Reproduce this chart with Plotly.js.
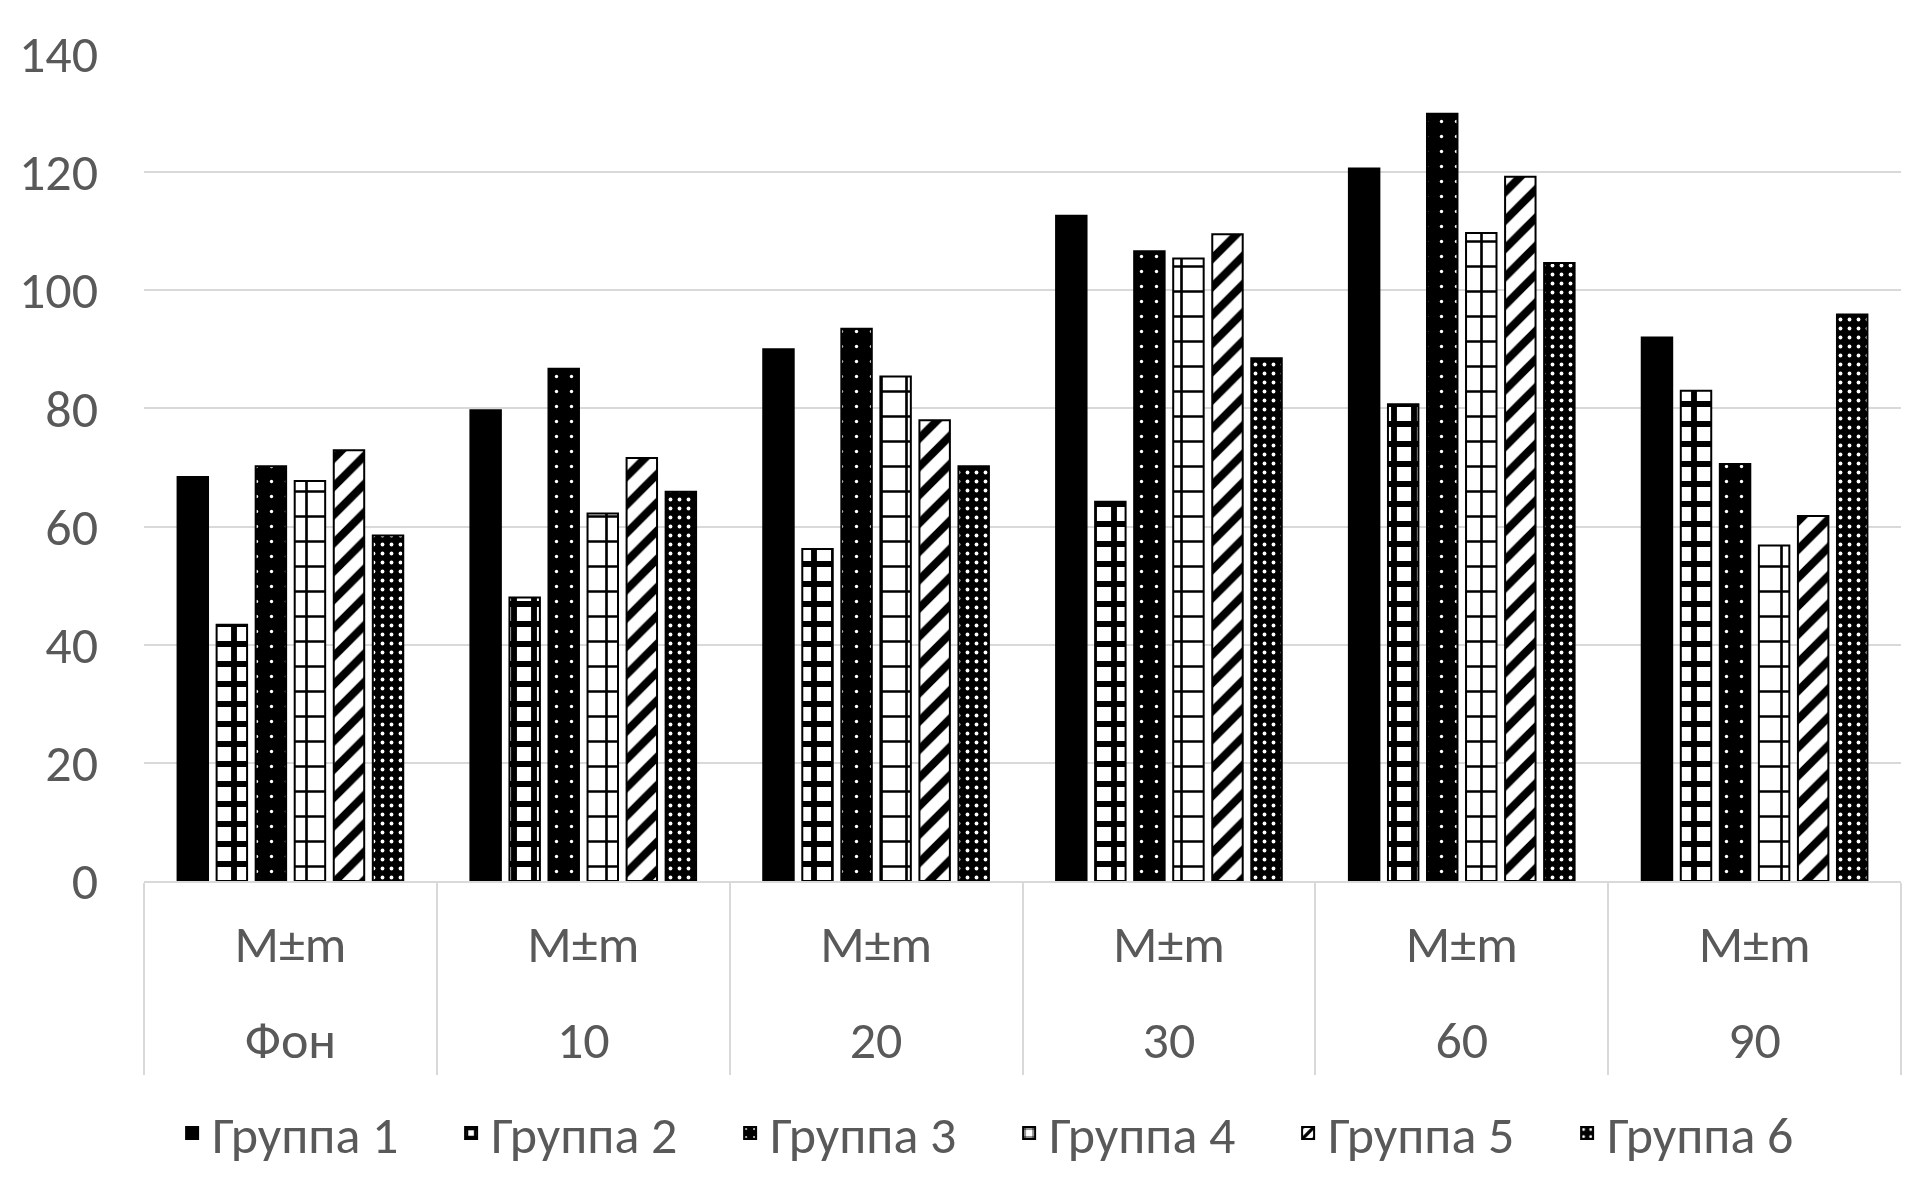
<!DOCTYPE html>
<html>
<head>
<meta charset="utf-8">
<script src="https://cdn.plot.ly/plotly-3.0.1.min.js"></script>
<style>html,body{margin:0;padding:0;background:#fff;}#chart{width:1908px;height:1191px;}</style>
</head>
<body>
<div id="chart"></div>
<script>
const categories = ['Фон', '10', '20', '30', '60', '90'];
const statLabel = 'M±m';
const seriesNames = ['Группа 1', 'Группа 2', 'Группа 3', 'Группа 4', 'Группа 5', 'Группа 6'];
const group1 = [68.4, 79.7, 90.0, 112.6, 120.6, 92.0];
const group2 = [43.4, 48.0, 56.2, 64.2, 80.7, 83.0];
const group3 = [70.2, 86.7, 93.5, 106.6, 129.9, 70.6];
const group4 = [67.7, 62.2, 85.4, 105.4, 109.7, 56.8];
const group5 = [72.9, 71.6, 78.0, 109.5, 119.2, 61.8];
const group6 = [58.5, 65.9, 70.2, 88.5, 104.6, 95.9];
const yTicks = [0, 20, 40, 60, 80, 100, 120, 140];

const seriesValues = [group1, group2, group3, group4, group5, group6];
const patterns = [
  {shape: '', bgcolor: '#000000'},
  {shape: '+', fgcolor: '#000000', bgcolor: '#ffffff', size: 20, solidity: 0.5, fillmode: 'replace'},
  {shape: '.', fgcolor: '#ffffff', bgcolor: '#000000', size: 15, solidity: 0.04, fillmode: 'replace'},
  {shape: '+', fgcolor: '#000000', bgcolor: '#ffffff', size: 25, solidity: 0.2, fillmode: 'replace'},
  {shape: '/', fgcolor: '#000000', bgcolor: '#ffffff', size: 20, solidity: 0.4, fillmode: 'replace'},
  {shape: '.', fgcolor: '#ffffff', bgcolor: '#000000', size: 9, solidity: 0.14, fillmode: 'replace'}
];
const fills = ['#000000', '#ffffff', '#000000', '#ffffff', '#ffffff', '#000000'];

const FONT = 'Carlito, Calibri, Lato, sans-serif';
const FS = 52;
const TXT = '#595959';
const GRID = '#d9d9d9';

const traces = seriesNames.map((name, i) => ({
  type: 'bar',
  name: name,
  x: categories,
  y: seriesValues[i],
  marker: {
    color: fills[i],
    pattern: patterns[i],
    line: {color: '#000000', width: 2}
  },
  hoverinfo: 'skip'
}));
// invisible helper trace so the second (outer-level) category axis is drawn
traces.push({
  type: 'scatter',
  mode: 'markers',
  x: categories,
  y: group1,
  xaxis: 'x2',
  yaxis: 'y',
  marker: {opacity: 0, size: 1},
  showlegend: false,
  hoverinfo: 'skip'
});

const layout = {
  width: 1908,
  height: 1191,
  margin: {l: 144, r: 7, t: 54, b: 310, pad: 0},
  paper_bgcolor: '#ffffff',
  plot_bgcolor: '#ffffff',
  font: {family: FONT, size: FS, color: TXT},
  barmode: 'group',
  bargap: 0.2,
  bargroupgap: 0.22,
  showlegend: true,
  legend: {
    orientation: 'h',
    x: 0.016, xanchor: 'left',
    y: -0.305, yanchor: 'middle',
    font: {family: FONT, size: FS, color: TXT},
    entrywidth: 234, entrywidthmode: 'pixels',
    traceorder: 'normal'
  },
  xaxis: {
    type: 'category',
    categoryorder: 'array',
    categoryarray: categories,
    range: [-0.5, 5.5],
    tickmode: 'array',
    tickvals: categories,
    ticktext: categories.map(() => statLabel),
    tickson: 'boundaries',
    ticks: 'outside',
    ticklen: 192,
    tickwidth: 2,
    tickcolor: GRID,
    ticklabelstandoff: 17,
    showline: true,
    linecolor: GRID,
    linewidth: 2,
    showgrid: false,
    tickfont: {family: FONT, size: FS, color: TXT},
    fixedrange: true
  },
  xaxis2: {
    type: 'category',
    overlaying: 'x',
    anchor: 'y',
    side: 'bottom',
    categoryorder: 'array',
    categoryarray: categories,
    range: [-0.5, 5.5],
    tickmode: 'array',
    tickvals: categories,
    ticktext: categories,
    ticks: '',
    showline: false,
    showgrid: false,
    zeroline: false,
    ticklabelstandoff: 124,
    tickfont: {family: FONT, size: FS, color: TXT},
    fixedrange: true
  },
  yaxis: {
    range: [0, 140],
    tickmode: 'array',
    tickvals: yTicks,
    ticktext: yTicks.map(String),
    showgrid: true,
    gridcolor: GRID,
    gridwidth: 2,
    zeroline: false,
    showline: false,
    ticks: '',
    ticklabelstandoff: 45,
    tickfont: {family: FONT, size: FS, color: TXT},
    fixedrange: true
  }
};

Plotly.newPlot('chart', traces, layout, {displayModeBar: false, staticPlot: true});
</script>
</body>
</html>
